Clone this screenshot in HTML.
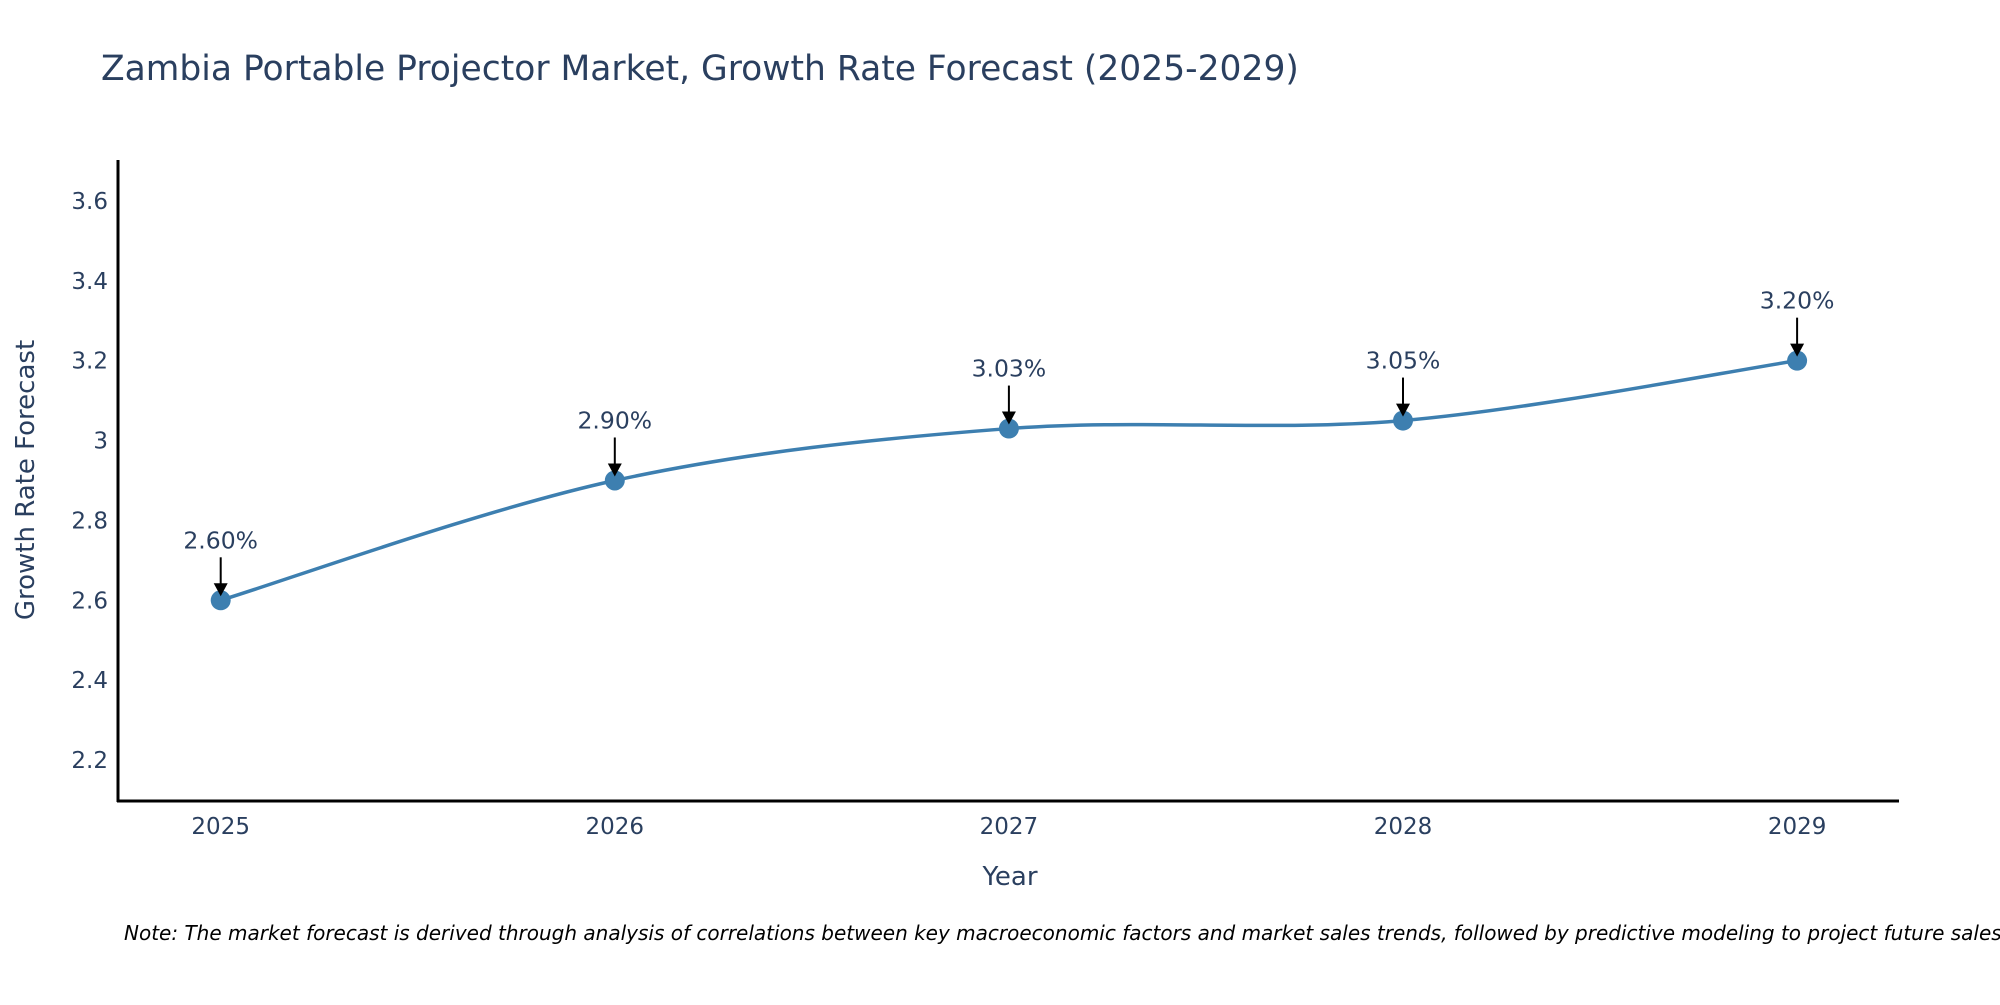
<!DOCTYPE html>
<html><head><meta charset="utf-8"><style>
body{margin:0;background:#fff;font-family:"Liberation Sans","DejaVu Sans",sans-serif;overflow:hidden}
svg text{font-family:"DejaVu Sans","Liberation Sans",sans-serif;fill:#2a3f5f}
</style></head><body>
<svg id="c" width="2000" height="1000" xmlns="http://www.w3.org/2000/svg">
<text x="101" y="80" font-size="34.5">Zambia Portable Projector Market, Growth Rate Forecast (2025-2029)</text>
<g id="yt"></g>
<g id="xt"></g>
<line x1="118" y1="160" x2="118" y2="802" stroke="#000" stroke-width="3"/>
<line x1="117" y1="801" x2="1899" y2="801" stroke="#000" stroke-width="3"/>
<text x="1010" y="885" font-size="26" text-anchor="middle">Year</text>
<text transform="translate(34,480) rotate(-90)" font-size="26" text-anchor="middle">Growth Rate Forecast</text>
<path id="ln" fill="none" stroke="#3d7fb0" stroke-width="3.5"/>
<g id="pts"></g>
<text x="124" y="940" font-size="20" font-style="italic" style="fill:#000">Note: The market forecast is derived through analysis of correlations between key macroeconomic factors and market sales trends, followed by predictive modeling to project future sales.</text>
</svg>
<script>
const years=[2025,2026,2027,2028,2029];
const values=[2.60,2.90,3.03,3.05,3.20];
const labels=["2.60%","2.90%","3.03%","3.05%","3.20%"];
const yTicks=[2.2,2.4,2.6,2.8,3,3.2,3.4,3.6];
const NS="http://www.w3.org/2000/svg";
const xs=y=>220.7+(y-2025)*394.1;
const ys=v=>800-(v-2.1)*399.4;
function mk(t,a,p){const e=document.createElementNS(NS,t);for(const k in a)e.setAttribute(k,a[k]);p.appendChild(e);return e;}
const yt=document.getElementById('yt');
yTicks.forEach(v=>{const t=mk('text',{x:108,y:ys(v)+8,'font-size':23,'text-anchor':'end'},yt);t.textContent=String(v);

});
const xt=document.getElementById('xt');
years.forEach(y=>{const t=mk('text',{x:xs(y),y:834,'font-size':23,'text-anchor':'middle'},xt);t.textContent=String(y);

});
const P=years.map((y,i)=>[xs(y),ys(values[i])]);
let d=`M${P[0][0]},${P[0][1]}`;
for(let i=0;i<P.length-1;i++){const p0=P[Math.max(0,i-1)],p1=P[i],p2=P[i+1],p3=P[Math.min(P.length-1,i+2)];
const s=1/6;d+=` C${p1[0]+(p2[0]-p0[0])*s},${p1[1]+(p2[1]-p0[1])*s} ${p2[0]-(p3[0]-p1[0])*s},${p2[1]-(p3[1]-p1[1])*s} ${p2[0]},${p2[1]}`;}
document.getElementById('ln').setAttribute('d',d);
const g=document.getElementById('pts');
P.forEach((p,i)=>{
const c=mk('circle',{cx:p[0],cy:p[1],r:10,fill:'#3d7fb0'},g);


const l=mk('line',{x1:p[0],y1:p[1]-43,x2:p[0],y2:p[1]-14,stroke:'#000','stroke-width':2},g);


const h=mk('polygon',{points:`${p[0]-7},${p[1]-17} ${p[0]+7},${p[1]-17} ${p[0]},${p[1]-4}`,fill:'#000'},g);


const t=mk('text',{x:p[0],y:p[1]-52,'font-size':23.5,'text-anchor':'middle'},g);t.textContent=labels[i];


});
</script>
</body></html>
